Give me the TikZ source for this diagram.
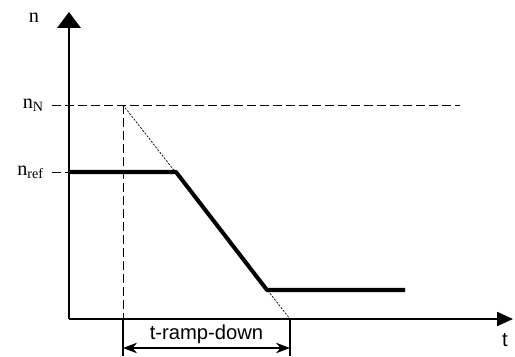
\documentclass[tikz,border=0pt]{standalone}
\usepackage{fontspec}
\setmainfont{Liberation Serif}
\setsansfont{Liberation Sans}
\usetikzlibrary{arrows.meta}
\begin{document}
\begin{tikzpicture}[line join = round,>=Stealth,x=0.02cm,y=0.02cm,
	axis/.style={line width=1.7pt},
	curve/.style={line width=2.3pt},
	guide/.style={line width=0.5pt,dash pattern=on 5pt off 2.4pt},
	slope/.style={line width=0.4pt,dash pattern=on 1.2pt off 0.8pt},
	lbl/.style={font=\fontsize{11.5}{12}\selectfont}]
	\useasboundingbox (0,0) rectangle (515,356);
	\path
	(69,37) coordinate (O)
	(69,344) coordinate (Ytop)
	(513,37) coordinate (Xend)
	(52,251) coordinate (NN)
	(460,251) coordinate (NNend)
	(52,184) coordinate (Nref)
	(123,251) coordinate (A)
	(176,184) coordinate (B)
	(267,66) coordinate (C)
	(405,66) coordinate (D)
	(290,37) coordinate (E)
	(123,37) coordinate (A0)
	(123,0) coordinate (A1)
	(290,0) coordinate (E1)
	(123,8) coordinate (L)
	(290,8) coordinate (R)
	(47,338) coordinate (Ylbl)
	;
	% axes
	\draw[axis,-{Triangle[width=13pt,length=9pt]}]
	(O) -- (Ytop)
	;
	\draw[line width=0.85pt,-{Triangle[width=8pt,length=9pt]}]
	(O) -- (Xend)
	;
	% guides
	\draw[guide]
	(NN) -- (NNend) (Nref) -- (O|-Nref) (A) -- (A0)
	;
	\draw[slope]
	(A) -- (E)
	;
	% speed
	\draw[curve]
	(O|-Nref) -- (B) -- (C) -- (D)
	;
	% ramp time
	\draw[line width=0.6pt]
	(A0) -- (A1) (E) -- (E1)
	;
	\draw[line width=0.6pt,{Stealth[length=8pt,width=6pt]}-{Stealth[length=8pt,width=6pt]}]
	(L) -- node[lbl,font=\sffamily\fontsize{11.5}{12}\selectfont,above=-1pt] {t-ramp-down} (R)
	;
	\foreach \p/\t in {Ylbl/n,NN/n_{\mathrm{N}},Nref/n_{\mathrm{ref}}}
	\node[lbl,left=1pt] at (\p) {$\mathrm{\t}$};
	\node[lbl,font=\sffamily\fontsize{11.5}{12}\selectfont] at (505,16) {t};
\end{tikzpicture}
\end{document}
